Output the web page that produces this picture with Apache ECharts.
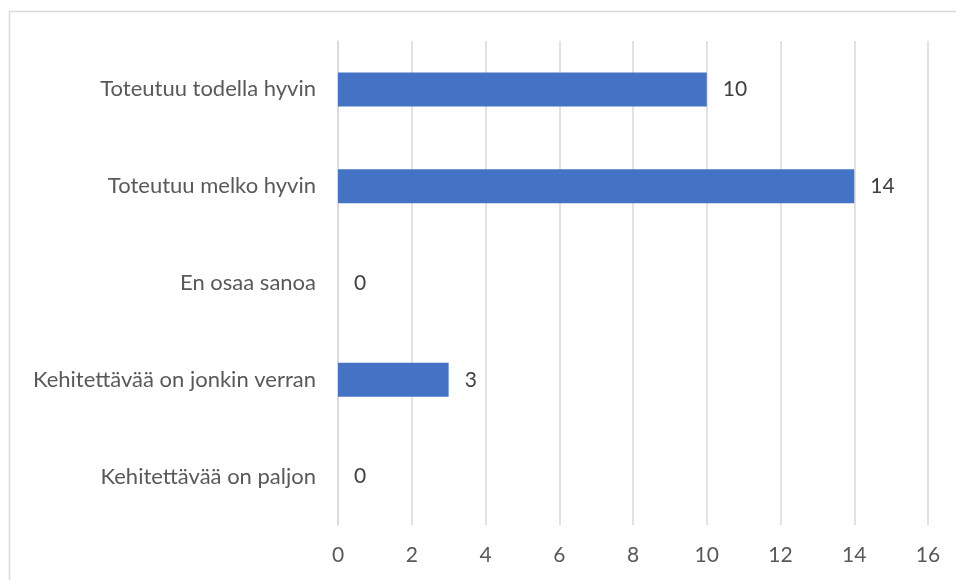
<!DOCTYPE html>
<html><head><meta charset="utf-8">
<script src="https://cdn.jsdelivr.net/npm/echarts@6/dist/echarts.min.js"></script>
<style>html,body{margin:0;padding:0;background:#fff}#c{width:956px;height:580px}</style>
</head><body><div id="c"></div>
<script>
const categories = ["Toteutuu todella hyvin","Toteutuu melko hyvin","En osaa sanoa","Kehitettävää on jonkin verran","Kehitettävää on paljon"];
const values = [10,14,0,3,0];
const xTicks = [0,2,4,6,8,10,12,14,16];
const font = "Lato";
const chart = echarts.init(document.getElementById('c'));
chart.setOption({
  animation:false,
  graphic:[{type:'rect',shape:{x:9.5,y:11.5,width:960,height:600},style:{fill:null,stroke:'#d9d9d9',lineWidth:1.5},silent:true}],
  grid:{left:338,right:28,top:41,bottom:55},
  xAxis:{type:'value',min:xTicks[0],max:xTicks[xTicks.length-1],interval:2,
    axisLine:{show:false},axisTick:{show:false},
    splitLine:{lineStyle:{color:'#d9d9d9',width:1.5}},
    axisLabel:{color:'#595959',fontFamily:font,fontSize:21,margin:20}},
  yAxis:{type:'category',data:categories.slice().reverse(),
    axisLine:{show:true,lineStyle:{color:'#d9d9d9',width:1.5}},axisTick:{show:false},
    axisLabel:{color:'#595959',fontFamily:font,fontSize:22,margin:22}},
  series:[{type:'bar',data:values.slice().reverse(),barWidth:34,
    itemStyle:{color:'#4472C4'},
    label:{show:true,position:'right',distance:16,color:'#404040',fontFamily:font,fontSize:21}}]
});
</script></body></html>
